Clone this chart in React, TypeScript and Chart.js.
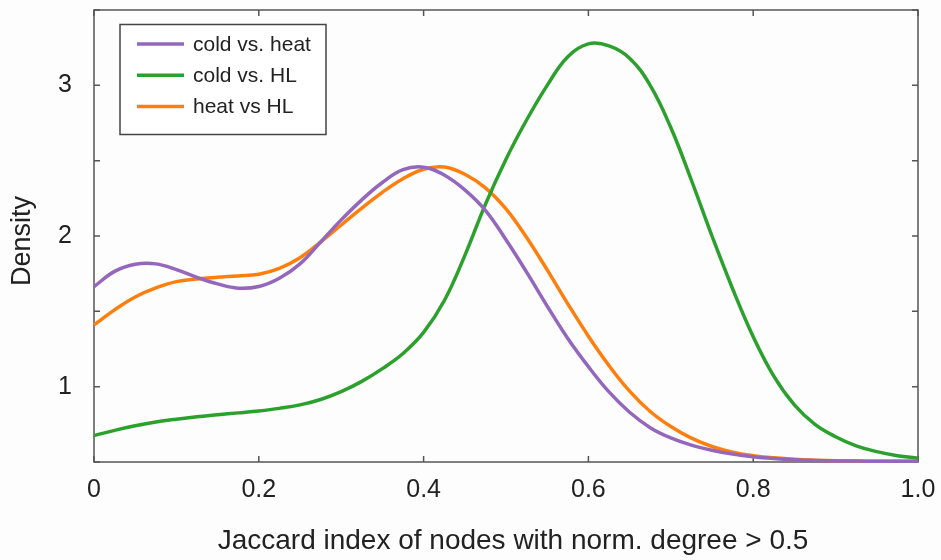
import React, { useEffect, useRef } from 'react';
import { Chart, registerables } from 'chart.js';

Chart.register(...registerables);

const xValues = [
  0, 0.025, 0.05, 0.075, 0.1, 0.125, 0.15, 0.175, 0.2, 0.225,
  0.25, 0.275, 0.3, 0.325, 0.35, 0.375, 0.4, 0.425, 0.45, 0.475,
  0.5, 0.525, 0.55, 0.575, 0.6, 0.625, 0.65, 0.675, 0.7, 0.725,
  0.75, 0.775, 0.8, 0.825, 0.85, 0.875, 0.9, 0.925, 0.95, 0.975, 1.0,
];
const coldVsHeat = [
  1.664, 1.765, 1.812, 1.815, 1.777, 1.725, 1.682, 1.654, 1.665, 1.72,
  1.815, 1.96, 2.107, 2.24, 2.355, 2.44, 2.457, 2.405, 2.306, 2.17,
  1.975, 1.76, 1.535, 1.32, 1.133, 0.965, 0.83, 0.728, 0.66, 0.612,
  0.578, 0.553, 0.535, 0.523, 0.515, 0.51, 0.507, 0.506, 0.505, 0.505, 0.505,
];
const coldVsHL = [
  0.675, 0.71, 0.74, 0.765, 0.784, 0.8, 0.813, 0.826, 0.839, 0.856,
  0.879, 0.915, 0.967, 1.035, 1.12, 1.22, 1.36, 1.57, 1.87, 2.21,
  2.51, 2.77, 3.0, 3.19, 3.275, 3.262, 3.18, 3.0, 2.72, 2.37,
  2.0, 1.65, 1.332, 1.07, 0.879, 0.75, 0.668, 0.607, 0.569, 0.542, 0.525,
];
const heatVsHL = [
  1.41, 1.51, 1.595, 1.655, 1.697, 1.715, 1.726, 1.735, 1.746, 1.785,
  1.856, 1.96, 2.073, 2.185, 2.29, 2.38, 2.443, 2.458, 2.41, 2.32,
  2.18, 1.99, 1.775, 1.55, 1.335, 1.14, 0.97, 0.835, 0.735, 0.658,
  0.603, 0.565, 0.542, 0.528, 0.518, 0.512, 0.508, 0.506, 0.505, 0.505, 0.505,
];

const seriesLabels = ['cold vs. heat', 'cold vs. HL', 'heat vs HL'];
const seriesColors = ['#9467bd', '#2ca02c', '#ff7f0e'];

const xTickValues = [0, 0.2, 0.4, 0.6, 0.8, 1.0];
const xTickLabels = ['0', '0.2', '0.4', '0.6', '0.8', '1.0'];
const yTickValues = [0.5, 1, 1.5, 2, 2.5, 3, 3.5];
const yTickLabels = ['', '1', '', '2', '', '3', ''];

const xTitle = 'Jaccard index of nodes with norm. degree > 0.5';
const yTitle = 'Density';

const FONT = '"Liberation Sans", Arial, Helvetica, sans-serif';
const TEXT = '#222222';
const FRAME = '#555555';

const framePlugin = {
  id: 'frameTicks',
  beforeDatasetsDraw(chart: any) {
    const { ctx, chartArea } = chart;
    const { left, right, top, bottom } = chartArea;
    const xs = chart.scales.x;
    const ys = chart.scales.y;
    ctx.save();
    ctx.strokeStyle = FRAME;
    ctx.lineWidth = 1.5;
    ctx.strokeRect(left, top, right - left, bottom - top);
    const tl = 6;
    ctx.beginPath();
    xTickValues.forEach((v) => {
      const px = xs.getPixelForValue(v);
      ctx.moveTo(px, bottom);
      ctx.lineTo(px, bottom - tl);
      ctx.moveTo(px, top);
      ctx.lineTo(px, top + tl);
    });
    yTickValues.forEach((v) => {
      const py = ys.getPixelForValue(v);
      ctx.moveTo(left, py);
      ctx.lineTo(left + tl, py);
      ctx.moveTo(right, py);
      ctx.lineTo(right - tl, py);
    });
    ctx.stroke();
    ctx.restore();
  },
  afterDatasetsDraw(chart: any) {
    const { ctx, chartArea } = chart;
    const bx = chartArea.left + 26;
    const by = chartArea.top + 14.5;
    const bw = 206;
    const bh = 110;
    ctx.save();
    ctx.fillStyle = '#ffffff';
    ctx.fillRect(bx, by, bw, bh);
    ctx.strokeStyle = '#444444';
    ctx.lineWidth = 1.5;
    ctx.strokeRect(bx, by, bw, bh);
    ctx.font = `21px ${FONT}`;
    ctx.textBaseline = 'middle';
    ctx.textAlign = 'left';
    seriesLabels.forEach((label, i) => {
      const cy = by + 19.5 + i * 31.3;
      ctx.strokeStyle = seriesColors[i];
      ctx.lineWidth = 3.5;
      ctx.beginPath();
      ctx.moveTo(bx + 17, cy);
      ctx.lineTo(bx + 64, cy);
      ctx.stroke();
      ctx.fillStyle = TEXT;
      ctx.fillText(label, bx + 73, cy + 1);
    });

    // axis titles
    ctx.fillStyle = TEXT;
    ctx.font = `28px ${FONT}`;
    ctx.textAlign = 'center';
    ctx.textBaseline = 'middle';
    ctx.fillText(xTitle, (chartArea.left + chartArea.right) / 2 + 7, chartArea.bottom + 79);
    ctx.save();
    ctx.translate(chartArea.left - 71, (chartArea.top + chartArea.bottom) / 2 + 5);
    ctx.rotate(-Math.PI / 2);
    ctx.font = `27px ${FONT}`;
    ctx.fillText(yTitle, 0, 0);
    ctx.restore();
    ctx.restore();
  },
};

export default function App() {
  const canvasRef = useRef<HTMLCanvasElement | null>(null);

  useEffect(() => {
    const canvas = canvasRef.current;
    if (!canvas) return;
    const seriesData = [coldVsHeat, coldVsHL, heatVsHL];
    const chart = new Chart(canvas, {
      type: 'line',
      data: {
        datasets: seriesData.map((arr, i) => ({
          label: seriesLabels[i],
          data: arr.map((y, j) => ({ x: xValues[j], y })),
          borderColor: seriesColors[i],
          backgroundColor: seriesColors[i],
          borderWidth: 3.5,
          pointRadius: 0,
          tension: 0.4,
          fill: false,
          clip: 4,
        })),
      },
      options: {
        animation: false,
        responsive: false,
        devicePixelRatio: 1,
        layout: { padding: { left: 0, right: 23, top: 10, bottom: 0 } },
        plugins: {
          legend: { display: false },
          tooltip: { enabled: false },
        },
        scales: {
          x: {
            type: 'linear',
            min: 0,
            max: 1,
            afterBuildTicks: (s: any) => {
              s.ticks = xTickValues.map((v) => ({ value: v }));
            },
            afterFit: (s: any) => {
              s.height = 98;
              s.paddingLeft = 0;
              s.paddingRight = 0;
            },
            grid: { display: false, drawTicks: false },
            border: { display: false },
            ticks: {
              padding: 13,
              color: TEXT,
              font: { family: FONT, size: 25 },
              maxRotation: 0,
              autoSkip: false,
              callback: (_v: any, i: number) => xTickLabels[i],
            },
            title: { display: false },
          },
          y: {
            type: 'linear',
            min: 0.5,
            max: 3.5,
            afterBuildTicks: (s: any) => {
              s.ticks = yTickValues.map((v) => ({ value: v }));
            },
            afterFit: (s: any) => {
              s.width = 94;
              s.paddingTop = 0;
              s.paddingBottom = 0;
            },
            grid: { display: false, drawTicks: false },
            border: { display: false },
            ticks: {
              padding: 22,
              color: TEXT,
              font: { family: FONT, size: 25 },
              autoSkip: false,
              callback: (_v: any, i: number) => yTickLabels[i],
            },
            title: { display: false },
          },
        },
      },
      plugins: [framePlugin],
    });
    return () => chart.destroy();
  }, []);

  return (
    <div style={{ position: 'absolute', left: 0, top: 0, width: 941, height: 560, background: '#fdfdfd' }}>
      <canvas ref={canvasRef} width={941} height={560} style={{ width: 941, height: 560, display: 'block' }} />
    </div>
  );
}
